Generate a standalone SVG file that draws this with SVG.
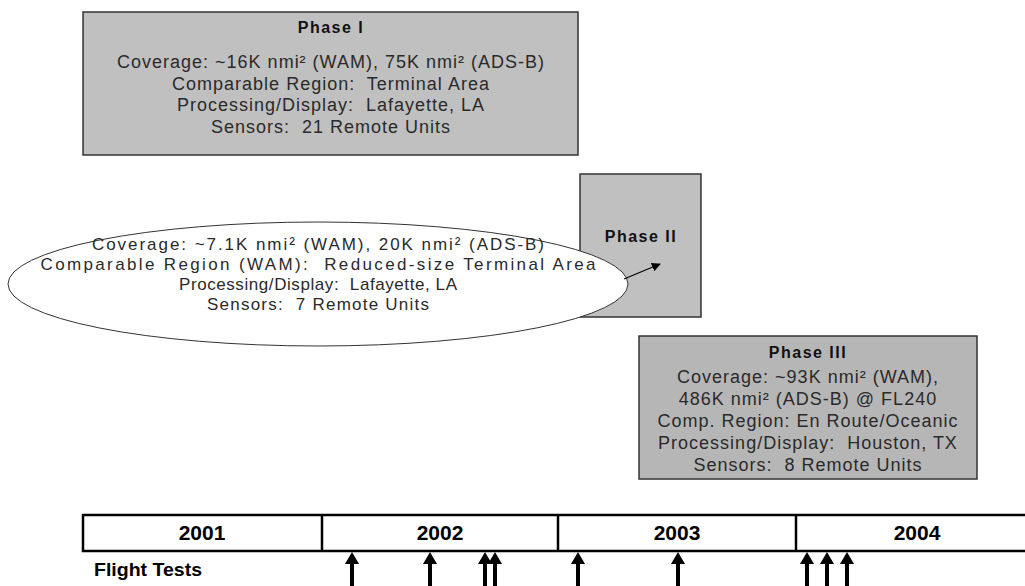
<svg xmlns="http://www.w3.org/2000/svg" width="1025" height="586" viewBox="0 0 1025 586">
  <defs>
    <style>
      text { white-space: pre; }
      .box { fill: #c0c0c0; stroke: #333; stroke-width: 1.5; }
      .box3 { fill: #b6b6b6; stroke: #333; stroke-width: 1.5; }
      .t { font-family: "Liberation Sans", Arial, sans-serif; font-size: 18px; letter-spacing: 1px; fill: #2a2a2a; text-anchor: middle; }
      .te { font-family: "Liberation Sans", Arial, sans-serif; font-size: 17px; fill: #2a2a2a; text-anchor: middle; }
      .h { font-family: "Liberation Sans", Arial, sans-serif; font-size: 16px; font-weight: bold; letter-spacing: 1.5px; fill: #111; text-anchor: middle; }
      .yr { font-family: "Liberation Sans", Arial, sans-serif; font-size: 21px; font-weight: bold; fill: #000; text-anchor: middle; }
      .lbl { font-family: "Liberation Sans", Arial, sans-serif; font-size: 18px; font-weight: bold; fill: #000; }
      .tl { fill: #fff; stroke: #000; stroke-width: 2.5; }
      .div { stroke: #000; stroke-width: 2.5; }
      .shaft { stroke: #000; stroke-width: 4; }
    </style>
    <marker id="ah" viewBox="0 0 10 10" refX="9" refY="5" markerWidth="9" markerHeight="9" orient="auto" markerUnits="userSpaceOnUse">
      <path d="M0,0 L10,5 L0,10 z" fill="#000"/>
    </marker>
    <path id="up" d="M0,-34 L7,-22 L-7,-22 z" fill="#000"/>
  </defs>

  <!-- Phase I -->
  <g id="phase1">
    <rect class="box" x="83" y="12" width="495" height="143"/>
    <text class="h" x="331" y="33">Phase I</text>
    <text class="t" x="331" y="68">Coverage: ~16K nmi² (WAM), 75K nmi² (ADS-B)</text>
    <text class="t" x="331" y="90">Comparable Region:  Terminal Area</text>
    <text class="t" x="331" y="111">Processing/Display:  Lafayette, LA</text>
    <text class="t" x="331" y="133">Sensors:  21 Remote Units</text>
  </g>

  <!-- Phase II -->
  <g id="phase2">
    <rect class="box" x="580" y="174" width="121" height="143"/>
    <text class="h" x="641" y="242">Phase II</text>
  </g>

  <!-- Phase II details callout -->
  <g id="phase2-detail">
    <ellipse cx="318" cy="284" rx="310" ry="62" fill="#fff" stroke="#333" stroke-width="1"/>
    <text class="te" x="318" y="250" textLength="452" lengthAdjust="spacing">Coverage: ~7.1K nmi² (WAM), 20K nmi² (ADS-B)</text>
    <text class="te" x="318" y="270" textLength="555" lengthAdjust="spacing">Comparable Region (WAM):  Reduced-size Terminal Area</text>
    <text class="te" x="318" y="290" textLength="278" lengthAdjust="spacing">Processing/Display:  Lafayette, LA</text>
    <text class="te" x="318" y="310" textLength="222" lengthAdjust="spacing">Sensors:  7 Remote Units</text>
  </g>

  <!-- Phase III -->
  <g id="phase3">
    <rect class="box3" x="639" y="336" width="338" height="143"/>
    <text class="h" x="808" y="358">Phase III</text>
    <text class="t" x="808" y="383">Coverage: ~93K nmi² (WAM),</text>
    <text class="t" x="808" y="405">486K nmi² (ADS-B) @ FL240</text>
    <text class="t" x="808" y="427">Comp. Region: En Route/Oceanic</text>
    <text class="t" x="808" y="449">Processing/Display:  Houston, TX</text>
    <text class="t" x="808" y="471">Sensors:  8 Remote Units</text>
  </g>

  <!-- Timeline -->
  <g id="timeline">
    <rect class="tl" x="83" y="515" width="980" height="36"/>
    <line class="div" x1="322" y1="515" x2="322" y2="551"/>
    <line class="div" x1="558" y1="515" x2="558" y2="551"/>
    <line class="div" x1="796" y1="515" x2="796" y2="551"/>
    <text class="yr" x="202" y="540">2001</text>
    <text class="yr" x="440" y="540">2002</text>
    <text class="yr" x="677" y="540">2003</text>
    <text class="yr" x="917" y="540">2004</text>
  </g>

  <g id="flight-tests">
    <text class="lbl" x="94" y="576" textLength="108" lengthAdjust="spacingAndGlyphs">Flight Tests</text>
  </g>

  <!-- Connectors -->
  <g id="connectors">
    <line x1="624" y1="279" x2="660" y2="264" stroke="#000" stroke-width="1.2" marker-end="url(#ah)"/>
    <g class="shaft">
      <line x1="352" y1="563" x2="352" y2="586"/>
      <line x1="430" y1="563" x2="430" y2="586"/>
      <line x1="485" y1="563" x2="485" y2="586"/>
      <line x1="495" y1="563" x2="495" y2="586"/>
      <line x1="578" y1="563" x2="578" y2="586"/>
      <line x1="678" y1="563" x2="678" y2="586"/>
      <line x1="807" y1="563" x2="807" y2="586"/>
      <line x1="827" y1="563" x2="827" y2="586"/>
      <line x1="847" y1="563" x2="847" y2="586"/>
    </g>
    <use href="#up" x="352" y="586"/>
    <use href="#up" x="430" y="586"/>
    <use href="#up" x="485" y="586"/>
    <use href="#up" x="495" y="586"/>
    <use href="#up" x="578" y="586"/>
    <use href="#up" x="678" y="586"/>
    <use href="#up" x="807" y="586"/>
    <use href="#up" x="827" y="586"/>
    <use href="#up" x="847" y="586"/>
  </g>
</svg>
